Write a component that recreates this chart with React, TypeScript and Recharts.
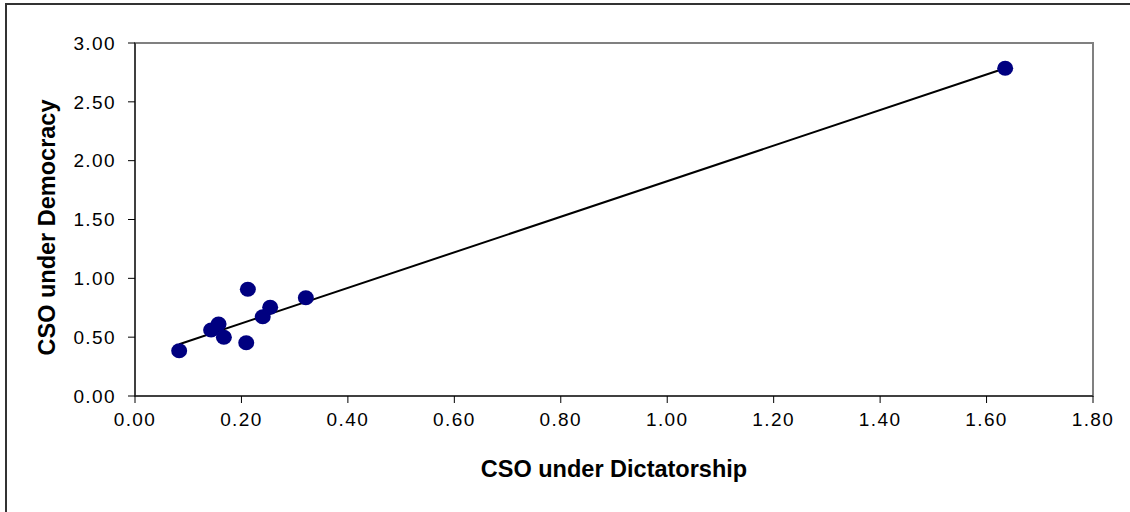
import { ScatterChart, Scatter, XAxis, YAxis, ReferenceArea, Label } from "recharts";

// CSO under Dictatorship (x) vs CSO under Democracy (y)
const dictatorship = [0.083, 0.143, 0.157, 0.167, 0.212, 0.209, 0.240, 0.254, 0.321, 1.635];
const democracy = [0.385, 0.561, 0.612, 0.499, 0.907, 0.453, 0.674, 0.754, 0.835, 2.785];

// linear trend line end points
const trendX = [0.083, 1.635];
const trendY = [0.44, 2.785];

const xTicks = [0, 0.2, 0.4, 0.6, 0.8, 1.0, 1.2, 1.4, 1.6, 1.8];
const yTicks = [0, 0.5, 1.0, 1.5, 2.0, 2.5, 3.0];

const points = dictatorship.map((x, i) => ({ x, y: democracy[i] }));
const trend = trendX.map((x, i) => ({ x, y: trendY[i] }));

const font = "Arial, 'Liberation Sans', sans-serif";
const tickStyle = { fill: "#000", fontSize: 19, fontFamily: font, letterSpacing: 1.4 };
const titleStyle = { fontSize: 23.5, fontWeight: "bold", fontFamily: font, fill: "#000" };

export default function App() {
  return (
    <div style={{ position: "absolute", left: 0, top: 0, width: 1130, height: 512, overflow: "hidden", background: "#fff" }}>
      <div
        style={{
          position: "absolute",
          left: 5,
          top: 3,
          width: 1200,
          height: 600,
          border: "2px solid #333",
        }}
      />
      <ScatterChart
        width={1130}
        height={512}
        margin={{ top: 43, right: 37, bottom: 0, left: 55 }}
        style={{ position: "absolute", left: 0, top: 0 }}
      >
        <ReferenceArea x1={0} x2={1.8} y1={0} y2={3} fill="none" stroke="#808080" strokeWidth={2} />
        <XAxis
          type="number"
          dataKey="x"
          domain={[0, 1.8]}
          ticks={xTicks}
          tickFormatter={(v: number) => v.toFixed(2)}
          tick={tickStyle}
          stroke="#000"
          tickSize={7}
          tickMargin={10}
          height={116}
        >
          <Label value="CSO under Dictatorship" position="insideTop" offset={64} style={titleStyle} />
        </XAxis>
        <YAxis
          type="number"
          dataKey="y"
          domain={[0, 3]}
          ticks={yTicks}
          tickFormatter={(v: number) => v.toFixed(2)}
          tick={tickStyle}
          stroke="#000"
          tickSize={7}
          tickMargin={12}
          width={80}
        >
          <Label
            value="CSO under Democracy"
            angle={-90}
            position="center"
            dx={-48}
            dy={8}
            style={{ ...titleStyle, textAnchor: "middle" }}
          />
        </YAxis>
        <Scatter
          data={trend}
          line={{ stroke: "#000", strokeWidth: 2 }}
          shape={() => null}
          isAnimationActive={false}
        />
        <Scatter
          data={points}
          fill="#000080"
          shape={(p: any) => <ellipse cx={p.cx} cy={p.cy} rx={8} ry={7.5} fill="#000080" />}
          isAnimationActive={false}
        />
      </ScatterChart>
    </div>
  );
}
